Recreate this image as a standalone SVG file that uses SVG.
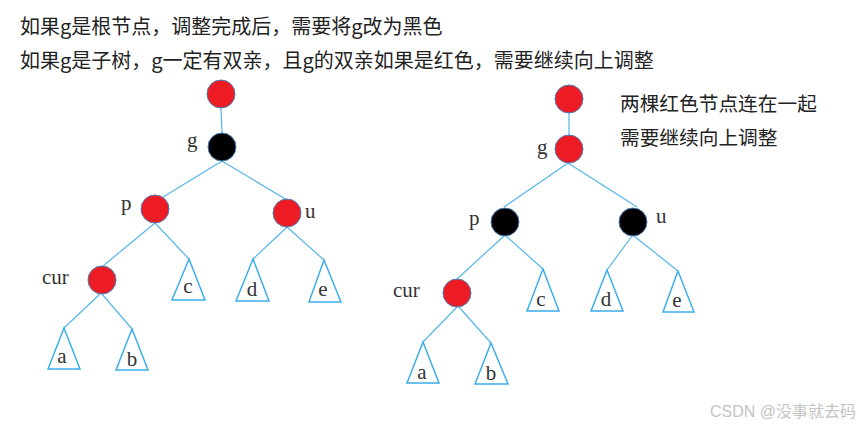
<svg xmlns="http://www.w3.org/2000/svg" width="861" height="426" viewBox="0 0 861 426">
<style>
.cn{font-family:"Noto Sans CJK SC","Noto Sans",sans-serif;font-size:20px;fill:#222}
.cr{font-family:"Noto Sans CJK SC","Noto Sans",sans-serif;font-size:19.7px;fill:#222}
.lb{font-family:"Liberation Serif",serif;font-size:21px;fill:#333}
.tl{font-family:"Liberation Serif",serif;font-size:21px;fill:#333;text-anchor:middle}
.red{fill:#ED1C24;stroke:#4A7FB5;stroke-width:1}
.blk{fill:#000;stroke:#4A7FB5;stroke-width:1}
.ln{stroke:#55B6E8;stroke-width:1.2;fill:none}
.tri{stroke:#3DAEE9;stroke-width:1.5;fill:#fff}
.wm{font-family:"Liberation Sans","Noto Sans CJK SC",sans-serif;font-size:16px;fill:#c4c4c4}
</style>
<rect width="861" height="426" fill="#fff"/>
<text class="cn" x="20" y="34">如果g是根节点，调整完成后，需要将g改为黑色</text>
<text class="cn" x="20" y="68">如果g是子树，g一定有双亲，且g的双亲如果是红色，需要继续向上调整</text>
<text class="cr" x="620" y="111">两棵红色节点连在一起</text>
<text class="cr" x="620" y="145">需要继续向上调整</text>

<g id="connectors">
<line class="ln" x1="221" y1="108" x2="222" y2="133"/>
<line class="ln" x1="222" y1="161" x2="163" y2="197"/>
<line class="ln" x1="222" y1="161" x2="287" y2="200"/>
<line class="ln" x1="155" y1="223" x2="103" y2="266"/>
<line class="ln" x1="155" y1="223" x2="189" y2="259"/>
<line class="ln" x1="287" y1="227" x2="253" y2="259"/>
<line class="ln" x1="287" y1="227" x2="324" y2="260"/>
<line class="ln" x1="100" y1="294" x2="64" y2="328"/>
<line class="ln" x1="102" y1="294" x2="132" y2="329"/>

<line class="ln" x1="569" y1="113" x2="569" y2="135"/>
<line class="ln" x1="568" y1="163" x2="504" y2="207"/>
<line class="ln" x1="568" y1="163" x2="637" y2="207"/>
<line class="ln" x1="504" y1="236" x2="457" y2="279"/>
<line class="ln" x1="506" y1="236" x2="543" y2="269"/>
<line class="ln" x1="632" y1="236" x2="607" y2="270"/>
<line class="ln" x1="634" y1="236" x2="678" y2="271"/>
<line class="ln" x1="457" y1="307" x2="423" y2="342"/>
<line class="ln" x1="459" y1="307" x2="491" y2="343"/>
</g>

<g id="L-root"><circle class="red" cx="221" cy="94" r="14"/></g>
<g id="L-g"><circle class="blk" cx="222" cy="147" r="14"/><text class="lb" x="187" y="147">g</text></g>
<g id="L-p"><circle class="red" cx="155" cy="209" r="14"/><text class="lb" x="121" y="210">p</text></g>
<g id="L-u"><circle class="red" cx="287" cy="213" r="14"/><text class="lb" x="305" y="218">u</text></g>
<g id="L-cur"><circle class="red" cx="102" cy="280" r="14"/><text class="lb" x="42" y="284">cur</text></g>
<g id="L-a"><polygon class="tri" points="64,328 48,369 80,369"/><text class="tl" x="62" y="363">a</text></g>
<g id="L-b"><polygon class="tri" points="132,329 116,370 148,370"/><text class="tl" x="132" y="366">b</text></g>
<g id="L-c"><polygon class="tri" points="189,259 172,300 205,300"/><text class="tl" x="188" y="293">c</text></g>
<g id="L-d"><polygon class="tri" points="253,259 236,301 269,301"/><text class="tl" x="252" y="296">d</text></g>
<g id="L-e"><polygon class="tri" points="324,260 309,302 341,302"/><text class="tl" x="323" y="296">e</text></g>

<g id="R-root"><circle class="red" cx="569" cy="99" r="14"/></g>
<g id="R-g"><circle class="red" cx="569" cy="149" r="14"/><text class="lb" x="537" y="154">g</text></g>
<g id="R-p"><circle class="blk" cx="505" cy="222" r="14"/><text class="lb" x="469" y="225">p</text></g>
<g id="R-u"><circle class="blk" cx="633" cy="222" r="14"/><text class="lb" x="656" y="223">u</text></g>
<g id="R-cur"><circle class="red" cx="457" cy="293" r="14"/><text class="lb" x="393" y="297">cur</text></g>
<g id="R-a"><polygon class="tri" points="423,342 407,383 439,383"/><text class="tl" x="422" y="379">a</text></g>
<g id="R-b"><polygon class="tri" points="491,343 475,384 508,384"/><text class="tl" x="491" y="380">b</text></g>
<g id="R-c"><polygon class="tri" points="543,269 527,311 559,311"/><text class="tl" x="541" y="306">c</text></g>
<g id="R-d"><polygon class="tri" points="607,270 591,311 623,311"/><text class="tl" x="606" y="306">d</text></g>
<g id="R-e"><polygon class="tri" points="678,271 663,312 694,312"/><text class="tl" x="677" y="307">e</text></g>

<text class="wm" x="710" y="417">CSDN @没事就去码</text>
</svg>
